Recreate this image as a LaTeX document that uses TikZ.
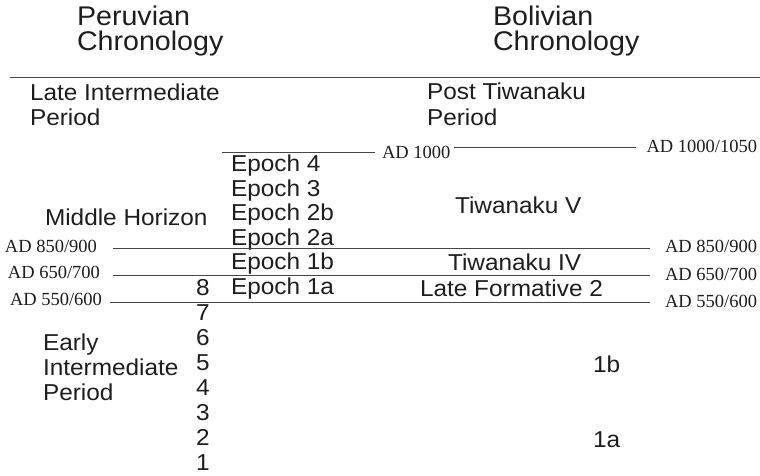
\documentclass[tikz,border=0pt]{standalone}
\usepackage{fontspec}
\setmainfont{Liberation Sans}
\newfontfamily\sansbody[FakeStretch=1.06]{Liberation Sans}
\newfontfamily\serifdate{Liberation Serif}
\definecolor{inkc}{RGB}{30,30,30}
\definecolor{rulec}{RGB}{70,70,70}
\begin{document}
\begin{tikzpicture}[x=1pt,y=-1pt,
  lbl/.style={inner sep=0pt,outer sep=0pt,anchor=base west,text=inkc,font=\sansbody\fontsize{23}{23}\selectfont},
  ttl/.style={inner sep=0pt,outer sep=0pt,anchor=base west,text=inkc,font=\sansbody\fontsize{27}{27}\selectfont},
  datel/.style={inner sep=0pt,outer sep=0pt,anchor=base west,text=inkc,font=\serifdate\fontsize{18.5}{18.5}\selectfont},
  dater/.style={inner sep=0pt,outer sep=0pt,anchor=base east,text=inkc,font=\serifdate\fontsize{18.5}{18.5}\selectfont},
  rl/.style={draw=rulec,line width=1pt}]
\useasboundingbox[fill=white] (0,0) rectangle (760,476);
% titles
\node[ttl] (pt1) at (77,26) {Peruvian};
\node[ttl] (pt2) at (77,50.5) {Chronology};
\node[ttl] (bt1) at (493,26) {Bolivian};
\node[ttl] (bt2) at (493,50.5) {Chronology};
% top rule
\coordinate (tl) at (10,78);
\coordinate (tr) at (760,78);
\draw[rl] (tl) -- (tr);
% late periods
\node[lbl] (lip1) at (30,101) {Late Intermediate};
\node[lbl] (lip2) at (30,125) {Period};
\node[lbl] (ptp1) at (427,100) {Post Tiwanaku};
\node[lbl] (ptp2) at (427,125) {Period};
% AD 1000 lines
\coordinate (a1l) at (222,152);
\coordinate (a1r) at (375,152);
\draw[rl] (a1l) -- (a1r);
\node[datel] (ad1000) at (382,158) {AD 1000};
\coordinate (a2l) at (454,147);
\coordinate (a2r) at (636,147);
\draw[rl] (a2l) -- (a2r);
\node[dater] (ad1050) at (757,153) {AD 1000/1050};
% epochs
\foreach \t [count=\i from 0] in {Epoch 4,Epoch 3,Epoch 2b,Epoch 2a,Epoch 1b,Epoch 1a}
  \node[lbl] (ep\i) at (231,171.5+24.6*\i) {\t};
\node[lbl] (mh) at (45,225) {Middle Horizon};
\node[lbl] (t5) at (455,213) {Tiwanaku V};
\node[lbl] (t4) at (448,270) {Tiwanaku IV};
\node[lbl] (lf2) at (420,296) {Late Formative 2};
% dividing lines
\coordinate (l1a) at (113,248); \coordinate (l1b) at (650,248);
\coordinate (l2a) at (113,275); \coordinate (l2b) at (650,275);
\coordinate (l3a) at (110,302); \coordinate (l3b) at (650,302);
\draw[rl] (l1a) -- (l1b);
\draw[rl] (l2a) -- (l2b);
\draw[rl] (l3a) -- (l3b);
\node[datel] (d1l) at (5,252) {AD 850/900};
\node[datel] (d2l) at (8,278.5) {AD 650/700};
\node[datel] (d3l) at (10,305) {AD 550/600};
\node[dater] (d1r) at (757,252) {AD 850/900};
\node[dater] (d2r) at (757,280) {AD 650/700};
\node[dater] (d3r) at (757,307) {AD 550/600};
% numbers
\foreach \n [count=\i from 0] in {8,7,6,5,4,3,2,1}
  \node[lbl] (num\n) at (196,295+25*\i) {\n};
\node[lbl] (eip1) at (43,350) {Early};
\node[lbl] (eip2) at (43,375) {Intermediate};
\node[lbl] (eip3) at (43,400) {Period};
\node[lbl] (b1b) at (593,372) {1b};
\node[lbl] (b1a) at (593,447) {1a};
\end{tikzpicture}
\end{document}
